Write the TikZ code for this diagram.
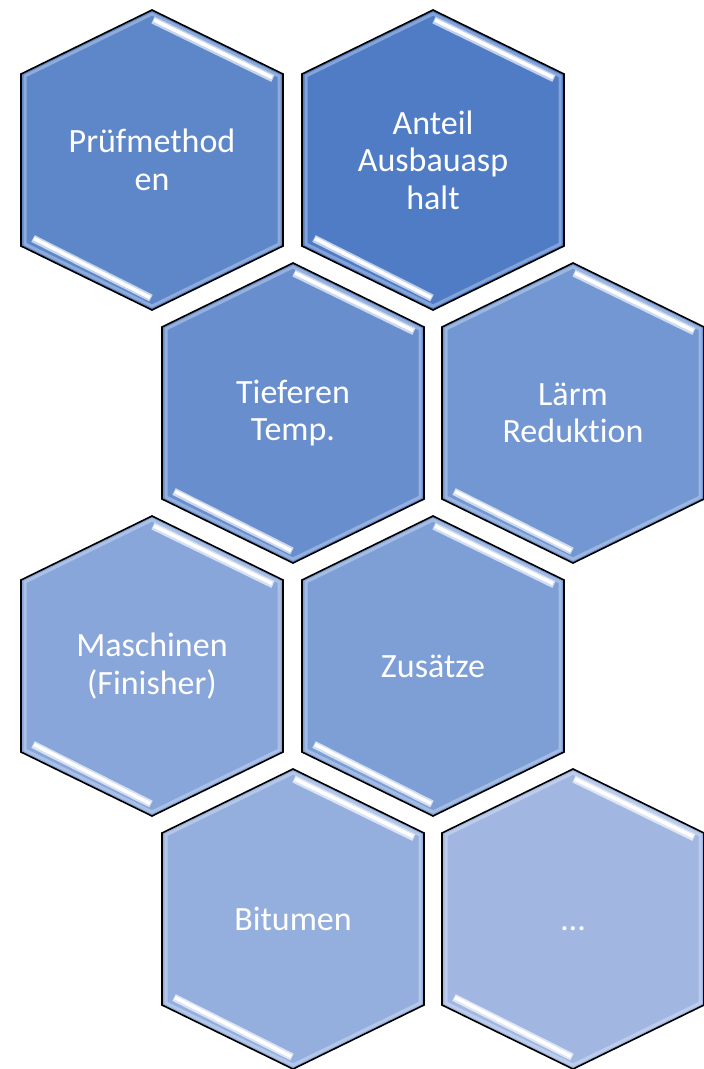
\documentclass[tikz,border=0pt]{standalone}
\usepackage{fontspec}
\setmainfont{Carlito}[Ligatures={NoCommon}]
\definecolor{hexA}{RGB}{94,135,201}
\definecolor{hexB}{RGB}{80,124,197}
\definecolor{hexC}{RGB}{104,142,206}
\definecolor{hexD}{RGB}{114,151,210}
\definecolor{hexE}{RGB}{136,166,218}
\definecolor{hexF}{RGB}{125,159,214}
\definecolor{hexG}{RGB}{148,175,222}
\definecolor{hexH}{RGB}{161,183,225}
\tikzset{
  hexborder/.style={draw=black, line width=1.6pt, line join=miter},
  hexbevel/.style={line width=3pt, opacity=0.3},
  glow/.style={line width=7.5pt},
  shine/.style={line width=3.6pt, white},
  hextext/.style={text=white, align=center, inner sep=0pt,
    font=\fontsize{34}{37.5}\selectfont}
}
\newcommand\hexcell[5]{%
  \begin{scope}[shift={(#2,#3)}]
    \path[hexborder, fill=#4] (0,-150) -- (131,-86) -- (131,86) -- (0,150)
      -- (-131,86) -- (-131,-86) -- cycle;
    \draw[hexbevel, draw=white] (0,-146) -- (127,-84) -- (127,84) -- (0,146)
      -- (-127,84) -- (-127,-84) -- cycle;
    \draw[glow, draw=#4!35!white] (1,-140) -- (121,-81.5);
    \draw[shine] (2,-140) -- (120,-82.5);
    \draw[glow, draw=#4!35!white] (-119,78.5) -- (-1,138);
    \draw[shine] (-118,78.5) -- (-2,137.5);
  \end{scope}
  \node[hextext] (#1) at (#2,#3) {#5};
}
\begin{document}
\begin{tikzpicture}[x=1pt, y=-1pt]
  \useasboundingbox (0,0) rectangle (704,1069);
  \hexcell{pruef}{152}{160}{hexA}{Prüfmethod\\en}
  \hexcell{anteil}{433}{160}{hexB}{Anteil\\Ausbauasp\\halt}
  \hexcell{tief}{293}{413}{hexC}{Tieferen\\Temp.}
  \hexcell{laerm}{573}{413}{hexD}{Lärm\\Reduktion}
  \hexcell{masch}{152}{666}{hexE}{Maschinen\\(Finisher)}
  \hexcell{zus}{433}{666}{hexF}{Zusätze}
  \hexcell{bit}{293}{919}{hexG}{Bitumen}
  \hexcell{etc}{573}{919}{hexH}{\raisebox{0pt}[22pt][0pt]{…}}
\end{tikzpicture}
\end{document}
